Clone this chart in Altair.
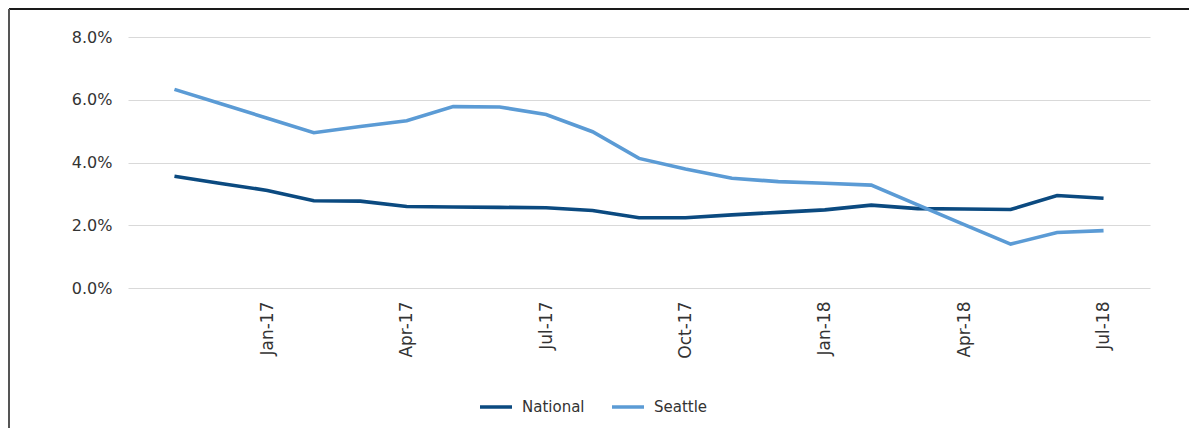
import altair as alt
import pandas as pd

months = ["Nov-16", "Dec-16", "Jan-17", "Feb-17", "Mar-17", "Apr-17", "May-17",
          "Jun-17", "Jul-17", "Aug-17", "Sep-17", "Oct-17", "Nov-17", "Dec-17",
          "Jan-18", "Feb-18", "Mar-18", "Apr-18", "May-18", "Jun-18", "Jul-18"]
national = [3.56, 3.33, 3.11, 2.78, 2.77, 2.60, 2.58, 2.57, 2.56, 2.47, 2.24,
            2.24, 2.33, 2.41, 2.49, 2.64, 2.53, 2.52, 2.50, 2.95, 2.86]
seattle = [6.33, 5.87, 5.41, 4.95, 5.15, 5.33, 5.78, 5.77, 5.53, 4.98, 4.13,
           3.79, 3.50, 3.39, 3.34, 3.28, 2.65, 2.02, 1.40, 1.77, 1.83]
tick_labels = ["Jan-17", "Apr-17", "Jul-17", "Oct-17", "Jan-18", "Apr-18", "Jul-18"]
series = ["National", "Seattle"]
colors = ["#0b4a80", "#5b9bd5"]

rows = []
for i, m in enumerate(months):
    rows.append({"idx": i + 1, "month": m, "series": "National", "value": national[i]})
    rows.append({"idx": i + 1, "month": m, "series": "Seattle", "value": seattle[i]})
df = pd.DataFrame(rows)

tick_vals = [months.index(t) + 1 for t in tick_labels]
label_map = "{" + ",".join(f"'{v}':'{t}'" for v, t in zip(tick_vals, tick_labels)) + "}"

FONT = "DejaVu Sans"
W, H = 1022, 251

lines = alt.Chart(df).mark_line(strokeWidth=3.6, strokeJoin="miter").encode(
    x=alt.X("idx:Q",
            scale=alt.Scale(domain=[0, 22], nice=False, zero=False),
            axis=alt.Axis(values=tick_vals, labelExpr=f"{label_map}[datum.value]",
                          labelAngle=-90, labelAlign="right", labelBaseline="middle",
                          labelPadding=13, ticks=False, domain=False, grid=False,
                          labelFont=FONT, labelFontSize=17, labelColor="#333333",
                          title=None)),
    y=alt.Y("value:Q",
            scale=alt.Scale(domain=[0, 8], nice=False),
            axis=alt.Axis(values=[0, 2, 4, 6, 8], labelExpr="format(datum.value, '.1f') + '%'",
                          ticks=False, domain=False, grid=True, gridColor="#d9d9d9",
                          gridWidth=1, labelPadding=16, labelFont=FONT, labelFontSize=16,
                          labelColor="#333333", title=None)),
    color=alt.Color("series:N",
                    scale=alt.Scale(domain=series, range=colors),
                    legend=alt.Legend(orient="none", legendX=350, legendY=352,
                                      direction="horizontal", title=None,
                                      symbolType="stroke", symbolSize=1024,
                                      symbolStrokeWidth=3.5, labelFont=FONT,
                                      labelFontSize=15, labelColor="#333333",
                                      columnPadding=20, labelOffset=8)),
)

frame = alt.Chart(alt.Data(values=[{}])).mark_rule(color="#1a1a1a", strokeWidth=2).encode(
    x=alt.value(-119), x2=alt.value(W + 40), y=alt.value(-28)
)
frame_left = alt.Chart(alt.Data(values=[{}])).mark_rule(color="#555555", strokeWidth=2).encode(
    x=alt.value(-119), y=alt.value(-28), y2=alt.value(H + 150)
)

chart = alt.layer(frame, frame_left, lines).properties(
    width=W, height=H,
    autosize=alt.AutoSizeParams(type="none"),
    padding={"left": 120, "top": 29, "right": 39, "bottom": 140},
).configure_view(stroke=None)

chart.save("out.html", embed_options={"renderer": "svg", "actions": False})
